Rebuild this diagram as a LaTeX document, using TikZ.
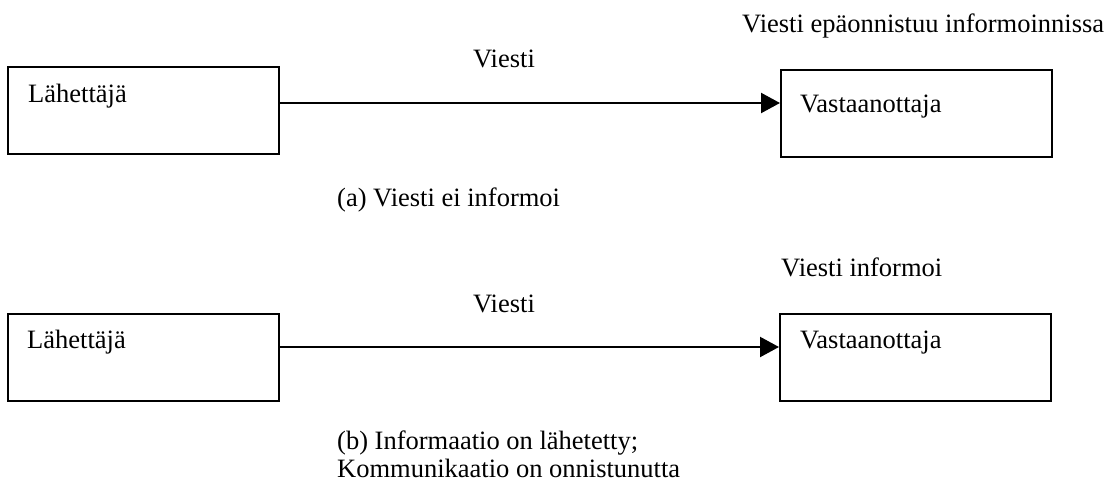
\documentclass[tikz,border=0pt]{standalone}
\usepackage{fontspec}
\setmainfont{Liberation Serif}
\usetikzlibrary{arrows.meta}
\begin{document}
\begin{tikzpicture}[x=1pt,y=-1pt,
  box/.style={draw,line width=2.4pt,rectangle,inner sep=0pt,anchor=north west,minimum width=#1,minimum height=87pt},
  txt/.style={inner sep=0pt,anchor=base west,font=\fontsize{26.5pt}{28pt}\selectfont},
  msg/.style={line width=2.2pt,-{Triangle[length=19pt,width=20pt]}}]
\useasboundingbox (0,0) rectangle (1111,487);
% (a)
\node[box=271pt] (s1) at (7,66) {};
\node[box=271pt] (r1) at (780,69) {};
\node[txt] (s1t) at (28,102) {Lähettäjä};
\node[txt] (r1t) at (800,112) {Vastaanottaja};
\node[txt] (m1) at (473,67) {Viesti};
\node[txt] (n1) at (742,33) {Viesti epäonnistuu informoinnissa};
\node[txt] (c1) at (337,206) {(a) Viesti ei informoi};
\draw[msg] (s1.east |- 0,103) -- (r1.west |- 0,103);
% (b)
\node[box=271pt] (s2) at (7,313) {};
\node[box=271pt] (r2) at (779,313) {};
\node[txt] (s2t) at (27,348) {Lähettäjä};
\node[txt] (r2t) at (800,348) {Vastaanottaja};
\node[txt] (m2) at (473,312) {Viesti};
\node[txt] (n2) at (781,276) {Viesti informoi};
\node[txt,align=left] (c2) at (337,477) {(b) Informaatio on lähetetty;\\Kommunikaatio on onnistunutta};
\draw[msg] (s2.east |- 0,347) -- (r2.west |- 0,347);
\end{tikzpicture}
\end{document}
